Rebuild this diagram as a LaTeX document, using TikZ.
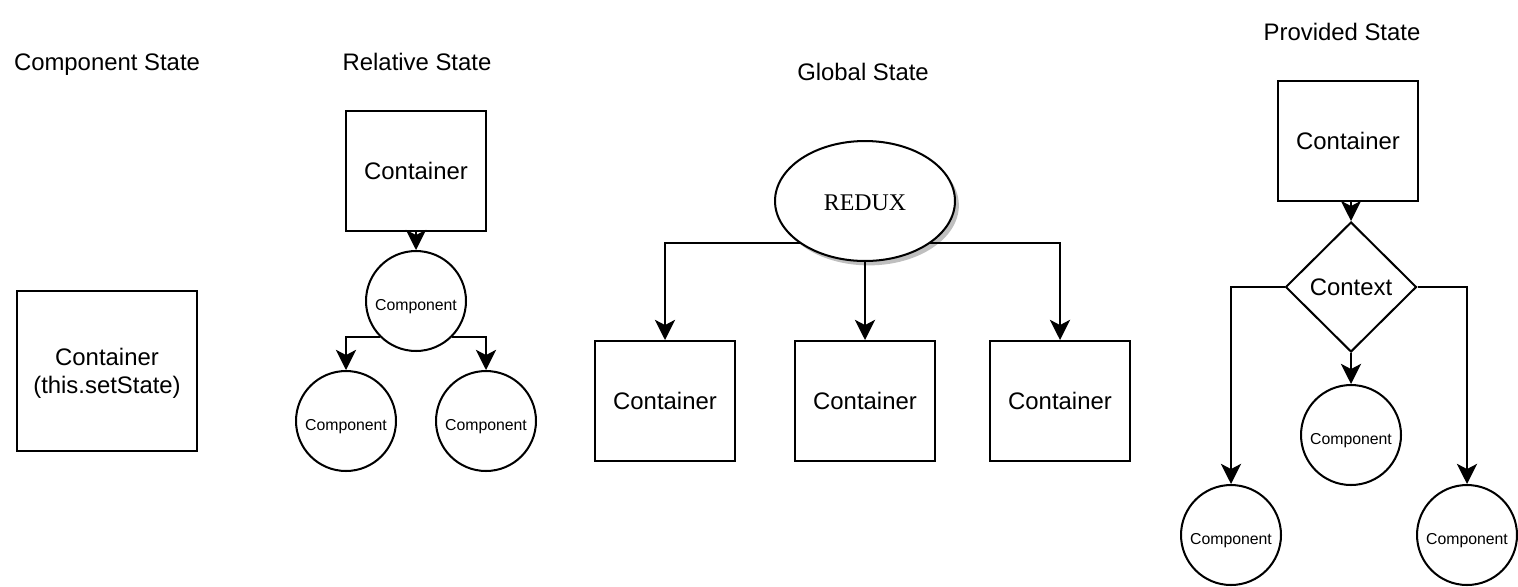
\documentclass[tikz,border=0pt]{standalone}
\usepackage{fontspec}
\setmainfont{Liberation Sans}
\newfontfamily\reduxfont{Liberation Serif}
\usetikzlibrary{arrows.meta,shapes.geometric,shadows}

\begin{document}
\begin{tikzpicture}[x=0.02cm, y=-0.02cm, line width=1.15pt,
    >={Stealth[length=11.5pt,width=11.5pt,inset=3pt]},
    every node/.style={font=\fontsize{13.6}{16}\selectfont, text depth=0pt},
    box/.style={draw, minimum width=2.8cm, minimum height=2.4cm, inner sep=0pt},
    comp/.style={draw, circle, minimum size=2cm, inner sep=0pt, text height=11pt, font=\fontsize{9}{11}\selectfont}]
    \useasboundingbox (0,0) rectangle (1518,586);

    \node (t1) at (107,62)  {Component State};
    \node (t2) at (417,62)  {Relative State};
    \node (t3) at (863,72)  {Global State};
    \node (t4) at (1342,32) {Provided State};

    % component state
    \node[box, minimum width=3.6cm, minimum height=3.2cm, align=center] (a) at (107,371) {Container\\(this.setState)};

    % relative state
    \node[box] (r) at (416,171) {Container};
    \node[comp] (r1) at (416,301) {Component};
    \node[comp] (r2) at (346,421) {Component};
    \node[comp] (r3) at (486,421) {Component};
    \draw[->] (r) -- (r1);
    \draw[->] (r1.south west) -| (r2);
    \draw[->] (r1.south east) -| (r3);

    % global state
    \node[draw, ellipse, minimum width=3.6cm, minimum height=2.4cm, inner sep=0pt, fill=white,
          drop shadow={shadow xshift=2.2pt, shadow yshift=-2.5pt, fill=black!25, opacity=1},
          text height=10.5pt, font=\fontsize{13.6}{16}\selectfont\reduxfont] (x) at (865,201) {REDUX};
    \node[box] (g1) at (665,401)  {Container};
    \node[box] (g2) at (865,401)  {Container};
    \node[box] (g3) at (1060,401) {Container};
    \draw[->] (x.213) -| (g1);
    \draw[->] (x) -- (g2);
    \draw[->] (x.327) -| (g3);

    % provided state
    \node[box] (p) at (1348,141) {Container};
    \node[draw, diamond, minimum width=2.62cm, minimum height=2.6cm, inner sep=0pt] (ctx) at (1351,287) {Context};
    \node[comp] (p1) at (1231,535) {Component};
    \node[comp] (p2) at (1351,435) {Component};
    \node[comp] (p3) at (1467,535) {Component};
    \draw[->] (p.south -| ctx) -- (ctx);
    \draw[->] (ctx) -- (p2);
    \draw[->] (ctx) -| (p1);
    \draw[->] (ctx) -| (p3);
\end{tikzpicture}
\end{document}
